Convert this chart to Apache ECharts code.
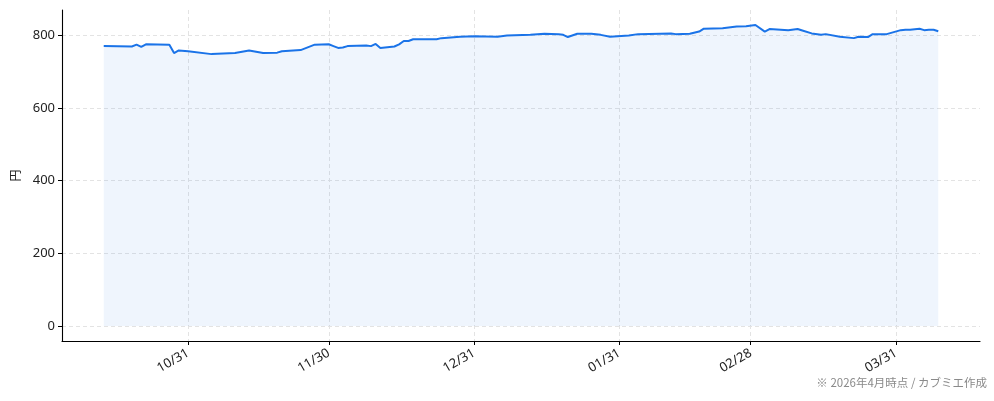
<!DOCTYPE html>
<html>
<head>
    <meta charset="UTF-8">
    <title>株価推移</title>
    <style type="text/css">
        *{ margin: 0; padding: 0; }
        #main{ width: 994px; height: 401px; }
    </style>
    <script src="https://cdn.jsdelivr.net/npm/echarts@6/dist/echarts.min.js"></script>
</head>
<body>
<div id="main"></div>
<script type="text/javascript">
    // 日付と終値
    var dates = [
        '2025-10-13','2025-10-19','2025-10-20','2025-10-21','2025-10-22','2025-10-27','2025-10-28','2025-10-29','2025-10-31',
        '2025-11-05','2025-11-10','2025-11-13','2025-11-16','2025-11-19','2025-11-20','2025-11-24','2025-11-27','2025-11-30',
        '2025-12-01','2025-12-02','2025-12-03','2025-12-04','2025-12-08','2025-12-09','2025-12-10','2025-12-11','2025-12-14',
        '2025-12-15','2025-12-16','2025-12-17','2025-12-18','2025-12-23','2025-12-24','2025-12-28','2025-12-31',
        '2026-01-05','2026-01-07','2026-01-12','2026-01-15','2026-01-18','2026-01-19','2026-01-20','2026-01-22','2026-01-25',
        '2026-01-27','2026-01-29','2026-02-02','2026-02-04','2026-02-11','2026-02-12','2026-02-15','2026-02-17','2026-02-18',
        '2026-02-22','2026-02-25','2026-02-27','2026-03-01','2026-03-03','2026-03-04','2026-03-08','2026-03-10','2026-03-11',
        '2026-03-13','2026-03-15','2026-03-16','2026-03-19','2026-03-22','2026-03-23','2026-03-25','2026-03-26','2026-03-29',
        '2026-04-01','2026-04-02','2026-04-03','2026-04-05','2026-04-06','2026-04-07','2026-04-08','2026-04-09'
    ];
    var prices = [
        770,769,774,768,775,774,751,758,756,
        748,751,758,751,752,756,759,774,775,
        770,765,766,770,772,770,776,765,769,
        775,784,784,789,789,792,796,797,
        796,799,801,804,803,801,795,804,804,
        801,796,799,803,805,803,804,810,818,
        819,824,825,828,810,817,814,817,813,
        805,801,803,796,792,796,795,803,803,
        814,815,815,818,814,815,815,811
    ];
    var yTicks = [0, 200, 400, 600, 800];
    var xTicks = ['2025-10-31','2025-11-30','2025-12-31','2026-01-31','2026-02-28','2026-03-31'];

    function ts(s){ var p = s.split('-'); return Date.UTC(+p[0], +p[1]-1, +p[2]); }
    var xTickTs = xTicks.map(ts);
    var t0 = ts(dates[0]), t1 = ts(dates[dates.length-1]);
    var span = t1 - t0;
    var yMaxData = Math.max.apply(null, prices);

    var myChart = echarts.init(document.getElementById('main'));
    var font = '"Noto Sans", "Noto Sans CJK JP", sans-serif';
    var cjk = '"Noto Sans CJK JP", sans-serif';

    var option = {
        animation: false,
        grid: { left: 62, right: 14, top: 10, bottom: 60 },
        xAxis: {
            type: 'value',
            min: t0 - span * 0.05,
            max: t1 + span * 0.05,
            axisLine: { show: true, onZero: false, lineStyle: { color: '#000', width: 1.1 } },
            axisTick: { show: true, length: 4, lineStyle: { color: '#000' }, customValues: xTickTs },
            axisLabel: {
                customValues: xTickTs,
                rotate: 30,
                margin: 11,
                color: '#222',
                fontSize: 13,
                fontFamily: font,
                formatter: function (v) {
                    var d = new Date(v);
                    var m = d.getUTCMonth() + 1, dd = d.getUTCDate();
                    return (m < 10 ? '0' : '') + m + '/' + (dd < 10 ? '0' : '') + dd;
                }
            },
            splitLine: { show: true, lineStyle: { color: '#e3e3e3', type: [4, 3] } }
        },
        yAxis: {
            type: 'value',
            min: -yMaxData * 0.05,
            max: yMaxData * 1.05,
            name: '円',
            nameLocation: 'middle',
            nameGap: 40,
            nameRotate: 90,
            nameTextStyle: { color: '#222', fontSize: 12, fontFamily: cjk },
            axisLine: { show: true, onZero: false, lineStyle: { color: '#000', width: 1.1 } },
            axisTick: { show: true, length: 4, lineStyle: { color: '#000' }, customValues: yTicks },
            axisLabel: { customValues: yTicks, color: '#222', fontSize: 13, fontFamily: font, margin: 7 },
            splitLine: { show: true, lineStyle: { color: '#e3e3e3', type: [4, 3] } }
        },
        graphic: [{
            type: 'text',
            right: 7,
            bottom: 13,
            style: { text: '※ 2026年4月時点 / カブミエ作成', fill: '#8a8a8a', fontSize: 11.5, fontFamily: cjk }
        }],
        series: [{
            type: 'line',
            data: dates.map(function (d, i) { return [ts(d), prices[i]]; }),
            showSymbol: false,
            lineStyle: { color: '#1a73e8', width: 2 },
            itemStyle: { color: '#1a73e8' },
            areaStyle: { color: 'rgba(26,115,232,0.1)', origin: 0 }
        }]
    };
    myChart.setOption(option);
</script>
</body>
</html>
